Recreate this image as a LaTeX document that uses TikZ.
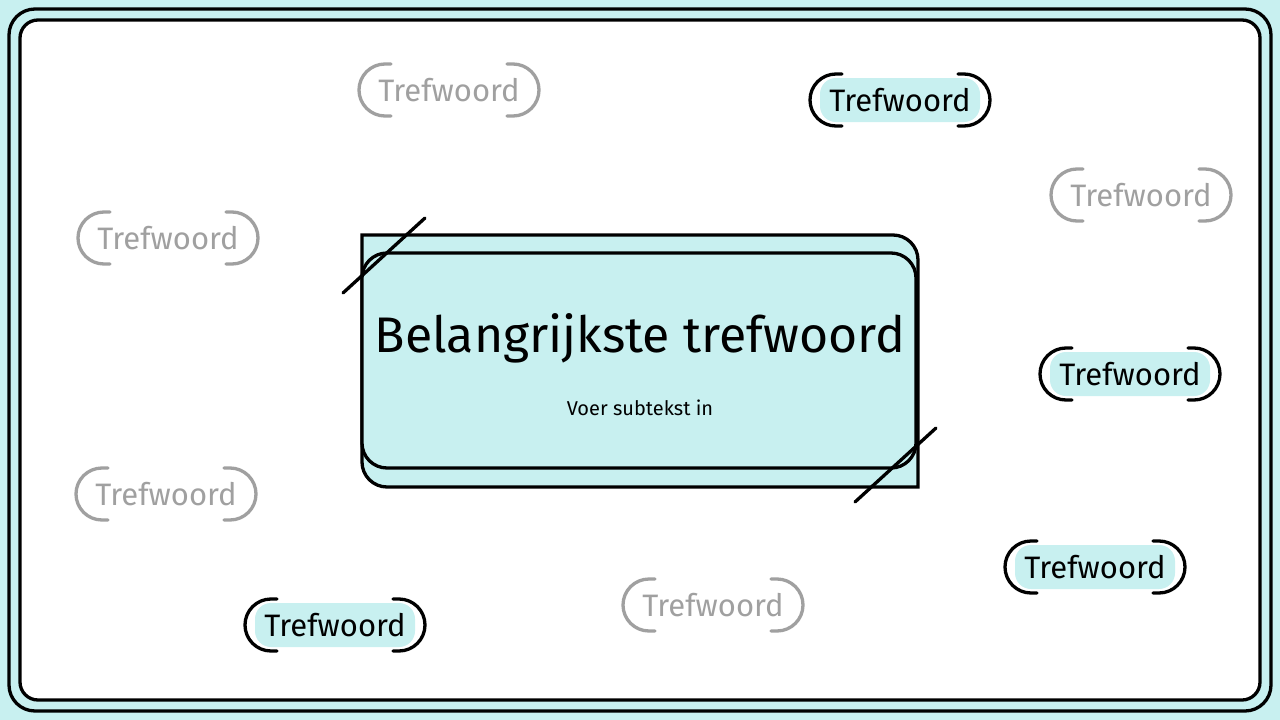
\documentclass[tikz,border=0pt]{standalone}
\usepackage{fontspec}
\setmainfont{Fira Sans}
\definecolor{cy}{HTML}{C8F0F0}
\definecolor{gr}{HTML}{A0A0A0}
\begin{document}
\begin{tikzpicture}[x=1pt,y=-1pt,line width=3.3pt,
  pill/.pic={
    \fill[cy,rounded corners=16] (-80,-22) rectangle (80,22);
    \draw[line cap=round] (-58,-26) -- (-64,-26) arc[start angle=270,end angle=90,radius=26] -- (-58,26);
    \draw[line cap=round] (58,-26) -- (64,-26) arc[start angle=270,end angle=450,radius=26] -- (58,26);
    \node[font=\fontsize{31}{34}\selectfont] (-t) at (0,0) {Trefwoord};
  },
  gpill/.pic={
    \draw[gr,line cap=round] (-58,-26) -- (-64,-26) arc[start angle=270,end angle=90,radius=26] -- (-58,26);
    \draw[gr,line cap=round] (58,-26) -- (64,-26) arc[start angle=270,end angle=450,radius=26] -- (58,26);
    \node[gr,font=\fontsize{31}{34}\selectfont] (-t) at (0,0) {Trefwoord};
  }]
\fill[cy] (0,0) rectangle (1280,720);
\useasboundingbox (0,0) rectangle (1280,720);
\draw[rounded corners=26] (9,9) rectangle (1271,711);
\draw[fill=white,rounded corners=18] (20,20) rectangle (1260,700);
% central box
\draw[fill=cy] (362,235) -- (893,235) arc[start angle=270,end angle=360,radius=25] -- (918,487) -- (387,487) arc[start angle=90,end angle=180,radius=25] -- cycle;
\draw[fill=cy,rounded corners=25] (362,253) rectangle (916,468);
\node (title) at (640,338) {\fontsize{50}{54}\selectfont Belangrijkste trefwoord};
\node (sub) at (640,408) {\fontsize{20}{22}\selectfont Voer subtekst in};
\draw[line cap=round] (343,293) -- (425,218);
\draw[line cap=round] (855,502) -- (936,428);
\pic (g1) at (449,90) {gpill};
\pic (g2) at (1141,195) {gpill};
\pic (g3) at (168,238) {gpill};
\pic (g4) at (166,494) {gpill};
\pic (g5) at (713,605) {gpill};
\pic (b1) at (900,100) {pill};
\pic (b2) at (1130,374) {pill};
\pic (b3) at (1095,567) {pill};
\pic (b4) at (335,625) {pill};
\end{tikzpicture}
\end{document}
